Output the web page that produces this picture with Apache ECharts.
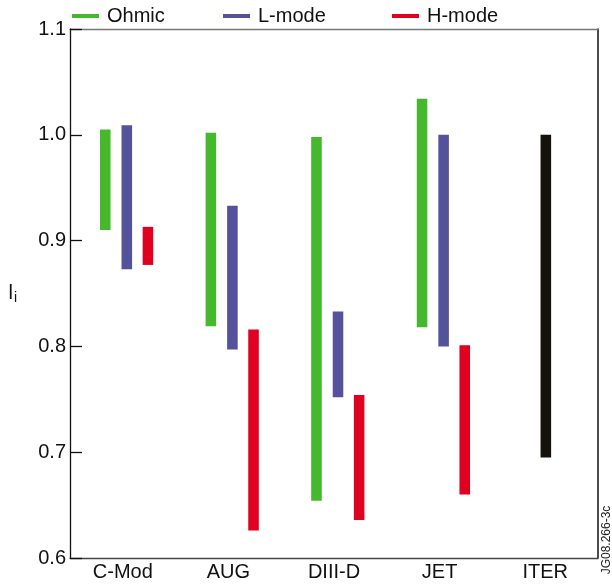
<!DOCTYPE html>
<html>
<head>
<meta charset="utf-8">
<script src="https://cdn.jsdelivr.net/npm/echarts@6/dist/echarts.min.js"></script>
<style>
    html, body { margin: 0; padding: 0; background: #fff; }
    #chart { width: 612px; height: 585px; }
</style>
</head>
<body>
<div id="chart"></div>
<script>
// machines on the x axis
var categories = ['C-Mod', 'AUG', 'DIII-D', 'JET', 'ITER'];
var yTicks = [0.6, 0.7, 0.8, 0.9, 1.0, 1.1];

// li ranges per machine (low / high end of each bar)
var ohmicLow  = [0.910, 0.819, 0.654, 0.818, null];
var ohmicHigh = [1.005, 1.002, 0.998, 1.034, null];
var lmodeLow  = [0.873, 0.797, 0.752, 0.800, null];
var lmodeHigh = [1.009, 0.933, 0.833, 1.000, null];
var hmodeLow  = [0.877, 0.626, 0.636, 0.660, null];
var hmodeHigh = [0.913, 0.816, 0.754, 0.801, null];
var iterLow   = [null, null, null, null, 0.695];
var iterHigh  = [null, null, null, null, 1.000];

var FONT = 'Liberation Sans';

function toRange(lo, hi) {
    var out = [];
    for (var i = 0; i < lo.length; i++) {
        if (lo[i] != null && hi[i] != null) {
            out.push([i, lo[i], hi[i]]);
        }
    }
    return out;
}

// offset = where the bar sits inside its category, as a fraction of the band
function makeRender(offset) {
    return function (params, api) {
        var lo = api.coord([api.value(0), api.value(1)]);
        var hi = api.coord([api.value(0), api.value(2)]);
        var band = api.size([1, 0])[0];
        var bw = band * 0.1;
        return {
            type: 'rect',
            shape: {
                x: lo[0] + offset * band - bw / 2,
                y: hi[1],
                width: bw,
                height: lo[1] - hi[1]
            },
            style: api.style()
        };
    };
}

function rangeSeries(name, color, offset, lo, hi) {
    return {
        name: name,
        type: 'custom',
        renderItem: makeRender(offset),
        itemStyle: { color: color },
        encode: { x: 0, y: [1, 2] },
        data: toRange(lo, hi)
    };
}

function legendAt(name, left) {
    return {
        data: [name],
        left: left,
        top: 6,
        padding: 0,
        icon: 'rect',
        itemWidth: 27,
        itemHeight: 4,
        selectedMode: false,
        textStyle: { fontFamily: FONT, fontSize: 20, color: '#111', padding: [0, 0, 0, 3] }
    };
}

var chart = echarts.init(document.getElementById('chart'));

var option = {
    backgroundColor: '#fff',
    animation: false,
    legend: [
        legendAt('Ohmic', 72),
        legendAt('L-mode', 223),
        legendAt('H-mode', 392)
    ],
    grid: { left: 70, right: 14, top: 29, bottom: 27, containLabel: false },
    xAxis: [{
        type: 'category',
        data: categories,
        boundaryGap: true,
        axisLine: { lineStyle: { color: '#444', width: 1.3 } },
        axisTick: { inside: true, length: 12, lineStyle: { color: '#444', width: 1.3 } },
        axisLabel: { fontFamily: FONT, fontSize: 20, color: '#111', margin: 4 },
        splitLine: { show: false }
    }, {
        type: 'category',
        data: categories,
        position: 'top',
        axisLine: { lineStyle: { color: '#777', width: 1.3 } },
        axisTick: { show: false },
        axisLabel: { show: false }
    }],
    yAxis: [{
        type: 'value',
        min: yTicks[0],
        max: yTicks[yTicks.length - 1],
        interval: 0.1,
        axisLine: { show: true, lineStyle: { color: '#111', width: 1.3 } },
        axisTick: { show: true, inside: true, length: 12, lineStyle: { color: '#111', width: 1.3 } },
        axisLabel: {
            fontFamily: FONT, fontSize: 20, color: '#111', margin: 4,
            formatter: function (v) { return v.toFixed(1); }
        },
        splitLine: { show: false },
        name: '{l|l}{i|i}',
        nameLocation: 'middle',
        nameRotate: 0,
        nameGap: 53,
        nameTextStyle: {
            rich: {
                l: { fontFamily: FONT, fontSize: 20, color: '#111' },
                i: { fontFamily: FONT, fontSize: 14, color: '#111', padding: [9, 0, 0, 1] }
            }
        }
    }, {
        type: 'value',
        position: 'right',
        min: yTicks[0],
        max: yTicks[yTicks.length - 1],
        axisLine: { show: true, lineStyle: { color: '#111', width: 1.5 } },
        axisTick: { show: false },
        axisLabel: { show: false },
        splitLine: { show: false }
    }],
    graphic: [{
        type: 'text',
        x: 607,
        y: 540,
        rotation: Math.PI / 2,
        style: {
            text: 'JG08.266-3c',
            fontFamily: FONT,
            fontSize: 12,
            fill: '#222',
            align: 'center',
            verticalAlign: 'middle'
        }
    }],
    series: [
        rangeSeries('Ohmic', '#46b82e', -0.166, ohmicLow, ohmicHigh),
        rangeSeries('L-mode', '#55529c', 0.038, lmodeLow, lmodeHigh),
        rangeSeries('H-mode', '#e0001f', 0.238, hmodeLow, hmodeHigh),
        rangeSeries('ITER', '#15110d', 0.006, iterLow, iterHigh)
    ]
};

chart.setOption(option);
</script>
</body>
</html>
